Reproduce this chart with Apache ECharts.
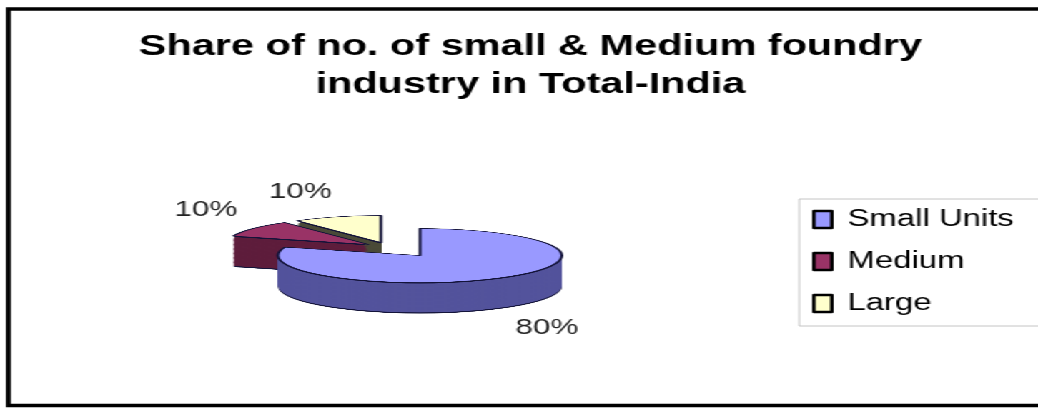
<!DOCTYPE html>
<html>
<head>
<meta charset="utf-8">
<title>Share of small & Medium foundry industry</title>
<script src="https://cdn.jsdelivr.net/npm/echarts@6/dist/echarts.min.js"></script>
<style>
  html, body { margin: 0; padding: 0; background: #fff; overflow: hidden; }
  /* the source picture is stretched sideways, so the whole chart is drawn narrow and widened */
  #wrap {
    position: absolute; left: 0; top: 0;
    width: 726px; height: 408px;
    transform: scaleX(1.4298); transform-origin: 0 0;
  }
  #pie {
    position: absolute; left: 0; top: 211.5px;
    width: 726px; height: 380px;
    transform: scaleY(0.272); transform-origin: 0 0;
  }
  #main { position: absolute; left: 0; top: 0; width: 726px; height: 408px; }
</style>
</head>
<body>
<div id="wrap">
  <div id="pie"></div>
  <div id="main"></div>
</div>
<script>
// data
const categories = ['Small Units', 'Medium', 'Large']
const shares = [80, 10, 10]
const exploded = [false, true, true]
const titleLines = ['Share of no. of small & Medium foundry', 'industry in Total-India']

// look
const topColors = ['#9999ff', '#993366', '#ffffcc']
const sideColors = ['#53539c', '#5e1d3c', '#4a4a38']
const edgeColor = '#14143a'
const labelX = [382.5, 144, 210]
const labelY = [328, 210, 192]

const font = '"Liberation Sans", Arial, sans-serif'

// 3D pie: stacked flat pies, squashed by the #pie div
const pieChart = echarts.init(document.getElementById('pie'), null, { renderer: 'canvas' })
const R = 99.3
const cx = 293.7
const cy = 160
const thickness = 110
// the pulled-out slices are moved together, then split a little
const groupShift = [-21.7, -30.5]
const none = 'rgba(0,0,0,0)'

const pieLayer = (depth, colors, borderColor, borderWidth, pulled) => ({
  type: 'pie',
  silent: true,
  animation: false,
  radius: R,
  center: pulled
    ? [cx + groupShift[0], cy + groupShift[1] + depth]
    : [cx, cy + depth],
  startAngle: 90,
  clockwise: true,
  selectedMode: 'multiple',
  selectedOffset: 18,
  avoidLabelOverlap: false,
  label: { show: false },
  labelLine: { show: false },
  emphasis: { disabled: true },
  data: categories.map((name, i) => {
    const mine = exploded[i] === pulled
    const style = mine
      ? { color: colors[i], borderColor: borderColor, borderWidth: borderWidth }
      : { color: none, borderWidth: 0 }
    return {
      name: name,
      value: shares[i],
      selected: pulled && mine,
      itemStyle: style,
      select: { itemStyle: style },
    }
  }),
})

const layers = []
const addDepth = (depth, colors, borderColor, borderWidth) => {
  layers.push(pieLayer(depth, colors, borderColor, borderWidth, false))
  layers.push(pieLayer(depth, colors, borderColor, borderWidth, true))
}
const edges = [edgeColor, edgeColor, edgeColor]
// bottom outline
addDepth(thickness + 4, edges, edgeColor, 0)
for (let d = thickness; d >= 6; d -= 3) {
  addDepth(d, sideColors, edgeColor, 0)
}
// rim line just below the top face
addDepth(3.5, edges, edgeColor, 0)
// top face
addDepth(0, topColors, edgeColor, 2)
layers.forEach((s, i) => { s.z = i + 1 })

pieChart.setOption({
  backgroundColor: 'transparent',
  animation: false,
  series: layers,
})

// title, legend, labels and frame
const mainChart = echarts.init(document.getElementById('main'), null, { renderer: 'canvas' })
mainChart.setOption({
  backgroundColor: 'transparent',
  animation: false,
  title: {
    text: titleLines.join('\n'),
    left: 371,
    top: 28,
    padding: 0,
    textAlign: 'center',
    textStyle: {
      fontFamily: font,
      fontSize: 29,
      fontWeight: 'bold',
      color: '#000',
      lineHeight: 38,
    },
  },
  legend: {
    orient: 'vertical',
    left: 559,
    top: 199,
    padding: [9, 40, 11, 9],
    borderColor: '#c4c4c4',
    borderWidth: 1,
    itemWidth: 12.5,
    itemHeight: 17,
    itemGap: 19,
    selectedMode: false,
    textStyle: {
      fontFamily: font,
      fontSize: 23,
      lineHeight: 23,
      color: '#000',
      padding: [0, 0, 0, 6],
    },
    data: categories.map((name, i) => ({
      name: name,
      icon: 'rect',
      itemStyle: { color: topColors[i], borderColor: '#000', borderWidth: 2.5, opacity: 1 },
    })),
  },
  graphic: [
    {
      type: 'rect',
      silent: true,
      shape: { x: 5.9, y: 9, width: 800, height: 396.5 },
      style: { fill: 'none', stroke: '#000', lineWidth: 3.5 },
    },
  ],
  series: [
    {
      // invisible pie: carries the legend names and the percentage labels
      name: 'Share',
      type: 'pie',
      silent: true,
      radius: 40,
      center: [cx, 255],
      startAngle: 90,
      itemStyle: { color: none, borderWidth: 0 },
      label: {
        show: true,
        formatter: '{d}%',
        fontFamily: font,
        fontSize: 22,
        color: '#222',
      },
      labelLine: { show: false },
      emphasis: { disabled: true },
      labelLayout: (params) => ({
        x: labelX[params.dataIndex],
        y: labelY[params.dataIndex],
        align: 'center',
        verticalAlign: 'middle',
      }),
      data: categories.map((name, i) => ({ name: name, value: shares[i] })),
    },
  ],
})
</script>
</body>
</html>
